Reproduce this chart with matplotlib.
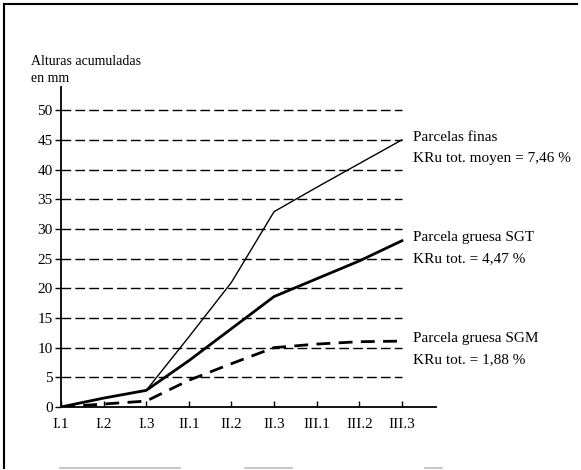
import matplotlib.pyplot as plt
from matplotlib.lines import Line2D

plt.rcParams['font.family'] = ['Liberation Serif', 'DejaVu Serif']

# periodos de medida
periodos = ['I.1', 'I.2', 'I.3', 'II.1', 'II.2', 'II.3', 'III.1', 'III.2', 'III.3']
# alturas acumuladas (mm)
finas = [0, 1.5, 2.8, 11.8, 21.0, 32.9, 37.0, 41.0, 45.0]
sgt = [0, 1.5, 2.8, 7.8, 13.2, 18.6, 21.6, 24.6, 28.0]
sgm = [0, 0.5, 1.0, 4.5, 7.3, 10.0, 10.6, 11.0, 11.1]
yticks = [0, 5, 10, 15, 20, 25, 30, 35, 40, 45, 50]

etiquetas = [
    ('Parcelas finas\nKRu tot. moyen = 7,46 %', finas[-1]),
    ('Parcela gruesa SGT\nKRu tot. = 4,47 %', sgt[-1]),
    ('Parcela gruesa SGM\nKRu tot. = 1,88 %', sgm[-1]),
]

W, H = 581, 470
fig = plt.figure(figsize=(W / 100, H / 100), dpi=100)
ax = fig.add_axes([61 / W, 63 / H, (436 - 61) / W, (407 - 87) / H])

x = list(range(len(periodos)))

# lineas de referencia discontinuas
for v in yticks[1:]:
    ax.plot([0, 8], [v, v], color='black', lw=1.0, dashes=(7, 3), zorder=1)

ax.plot(x, finas, color='black', lw=1.0, zorder=3)
ax.plot(x, sgt, color='black', lw=2.0, zorder=3)
ax.plot(x, sgm, color='black', lw=2.0, dashes=(5, 3), zorder=3)

ax.set_xlim(0, 8.8)
ax.set_ylim(0, 53.9)
ax.set_xticks(x)
ax.set_xticklabels(periodos, fontsize=11)
ax.set_yticks(yticks)
ax.set_yticklabels([str(v) for v in yticks], fontsize=11)
ax.tick_params(axis='x', direction='in', length=4, width=1, pad=8)
ax.tick_params(axis='y', direction='out', length=4, width=1, pad=2)
ax.spines['top'].set_visible(False)
ax.spines['right'].set_visible(False)
ax.spines['left'].set_linewidth(1.3)
ax.spines['bottom'].set_linewidth(1.3)

for texto, yv in etiquetas:
    ax.text(8.25, yv - 1.3, texto, fontsize=11, va='center', ha='left',
            linespacing=1.8, clip_on=False)

fig.text(31 / W, 1 - 70 / H, 'Alturas acumuladas\nen mm', fontsize=10,
         va='center', ha='left', linespacing=1.45)

# marco de la figura
fig.add_artist(Line2D([4 / W, 4 / W], [1 - 4 / H, 1 - 468 / H], color='black', lw=1.5))
fig.add_artist(Line2D([4 / W, 577 / W], [1 - 4 / H, 1 - 4 / H], color='black', lw=1.5))
for a, b in [(60, 180), (245, 292), (425, 442)]:
    fig.add_artist(Line2D([a / W, b / W], [1 - 468 / H, 1 - 468 / H], color='#bbbbbb', lw=1.2))

fig.savefig('out.png', dpi=100)
